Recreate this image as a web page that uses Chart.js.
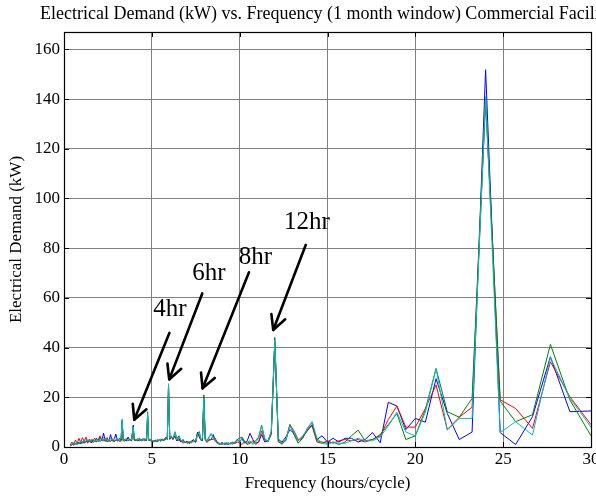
<!DOCTYPE html>
<html><head><meta charset="utf-8">
<script src="https://cdn.jsdelivr.net/npm/chart.js@4.4.1/dist/chart.umd.min.js"></script>
<style>html,body{margin:0;padding:0;background:#fff;}canvas{display:block;}</style>
</head><body>
<canvas id="c" width="596" height="498"></canvas>
<script>
// Frequency axis values (hours/cycle)
const freq = [
  0.35,0.45,0.55,0.65,0.75,0.85,0.95,1.05,1.15,1.25,
  1.35,1.45,1.55,1.65,1.75,1.85,1.95,2.05,2.15,2.25,
  2.35,2.45,2.55,2.65,2.75,2.85,2.95,3.05,3.15,3.25,
  3.31,3.37,3.45,3.55,3.65,3.75,3.85,3.94,4.0,4.1,
  4.2,4.3,4.4,4.5,4.6,4.7,4.76,4.82,4.9,5.0,
  5.1,5.2,5.3,5.4,5.5,5.6,5.7,5.8,5.88,5.95,
  6.02,6.1,6.2,6.32,6.42,6.55,6.65,6.78,6.9,7.0,
  7.12,7.25,7.37,7.5,7.6,7.7,7.8,7.88,7.96,8.04,
  8.14,8.25,8.37,8.5,8.6,8.72,8.85,9.0,9.14,9.23,
  9.35,9.47,9.6,9.73,9.86,
  10.0,10.14,10.29,10.43,10.59,10.75,10.91,11.08,11.25,11.43,
  11.61,11.8,12.0,12.2,12.41,12.63,12.86,13.09,13.33,13.58,
  13.85,14.12,14.4,14.69,15.0,15.32,15.65,16.0,16.36,16.74,
  17.14,17.56,18.0,18.46,18.95,19.46,20.0,20.57,21.18,21.82,
  22.5,23.23,24.0,24.83,25.71,26.67,27.69,28.8,30.0
];
const blueKW = [
  0.5,1.2,0.8,1.5,1.0,2.0,1.2,2.2,1.5,2.5,
  1.8,2.6,1.6,3.0,2.0,3.5,2.2,4.0,2.5,5.6,
  2.4,3.2,2.2,5.0,2.4,3.0,5.2,2.6,3.4,2.8,
  10.5,2.6,3.0,2.4,4.0,2.6,3.2,8.8,2.8,3.2,
  2.4,3.0,2.6,3.4,2.4,3.0,12.5,2.8,3.2,2.4,
  2.0,2.8,2.2,3.0,2.4,3.2,2.6,4.0,3.0,24.0,
  3.4,4.5,3.0,4.5,2.4,3.5,2.0,3.0,1.6,2.4,
  1.4,2.2,3.0,2.0,6.0,4.0,2.6,3.0,19.0,3.2,
  2.0,3.0,2.8,5.0,2.6,1.6,1.2,1.8,1.0,1.4,
  1.0,1.6,1.2,2.0,3.0,
  2.0,3.5,1.5,2.5,5.5,3.0,1.5,2.0,5.0,2.0,
  2.5,6.0,42.0,3.0,2.0,4.0,7.0,5.5,2.5,4.0,
  6.5,9.0,3.0,4.5,2.0,3.5,2.0,3.5,3.5,2.0,
  3.0,5.8,1.7,18.0,16.5,7.0,11.5,10.0,27.5,13.5,
  3.0,6.0,151.8,5.8,1.0,12.2,36.3,14.2,14.5
];
const redKW = [
  0.8,2.0,1.0,2.8,1.5,3.5,1.8,3.8,2.2,4.0,
  1.5,3.2,2.0,2.5,3.6,2.2,3.0,4.5,2.6,3.0,
  2.2,3.8,2.4,2.8,3.4,2.0,3.0,2.4,2.8,2.2,
  10.0,2.4,2.8,3.4,2.6,3.0,2.4,7.5,2.6,3.0,
  2.6,3.6,2.4,2.8,3.2,2.4,12.0,2.6,3.0,2.2,
  2.6,2.0,3.0,2.4,3.2,2.6,3.4,3.0,3.6,24.5,
  3.0,3.8,3.4,4.2,3.0,2.6,2.4,1.5,2.2,1.4,
  2.0,1.6,2.6,1.8,5.0,4.6,3.4,2.4,20.0,2.8,
  1.8,2.6,3.2,3.0,3.6,2.0,1.4,1.0,1.6,1.0,
  1.8,1.2,1.6,1.4,2.0,
  1.5,1.0,2.5,1.0,1.5,2.5,1.0,2.0,6.5,3.0,
  2.0,5.0,42.5,2.5,1.0,3.0,9.0,6.5,3.0,3.5,
  7.0,8.5,2.0,1.5,2.5,1.5,2.5,3.0,2.5,3.0,
  2.0,3.0,4.5,11.0,16.5,8.0,8.0,15.5,25.0,7.0,
  12.0,16.0,139.5,19.0,15.5,7.5,34.3,20.2,9.0
];
const greenKW = [
  0.4,0.8,1.5,1.0,2.0,1.2,2.2,1.5,2.5,1.8,
  2.8,2.0,3.0,1.8,2.6,2.0,3.2,2.2,3.0,2.4,
  3.4,2.0,2.8,2.2,3.0,2.4,2.6,3.2,2.2,3.0,
  10.8,2.8,2.4,3.0,2.6,3.2,2.6,7.8,3.0,2.4,
  3.4,2.6,3.0,2.6,3.4,2.8,14.2,3.0,2.4,2.8,
  2.2,2.6,2.0,2.8,2.4,3.0,2.6,3.6,3.2,24.8,
  3.8,4.0,3.2,6.0,3.4,4.5,2.6,2.2,1.8,2.0,
  1.6,2.4,2.0,3.0,5.5,6.2,3.0,2.6,21.0,3.4,
  2.4,4.0,5.0,4.5,2.8,1.8,1.0,1.6,1.2,1.8,
  1.2,1.4,2.0,1.6,3.0,
  3.5,4.0,2.0,1.5,2.0,1.5,2.5,4.0,8.8,3.0,
  2.5,5.5,44.1,2.0,1.5,2.5,9.0,5.0,1.5,3.5,
  7.5,10.0,2.5,2.0,1.5,2.0,1.0,2.0,4.5,6.8,
  2.5,3.0,5.0,9.0,13.5,3.0,4.5,15.0,31.6,14.2,
  12.0,19.5,140.0,18.5,10.2,13.0,41.3,18.9,4.5
];
const cyanKW = [
  0.6,1.0,1.8,1.2,2.2,1.5,2.5,2.0,2.8,2.2,
  3.0,2.4,2.6,3.2,2.2,3.0,2.4,3.4,2.6,3.8,
  2.8,3.2,2.6,3.6,2.8,3.2,3.8,2.8,3.0,3.4,
  11.3,3.0,2.6,3.2,3.0,2.8,3.0,8.0,3.4,2.8,
  3.0,3.2,2.6,3.0,2.6,3.2,13.5,2.8,3.0,2.6,
  2.4,2.2,2.6,2.4,3.0,2.6,3.2,3.8,3.4,25.5,
  3.6,4.4,3.6,6.2,3.0,4.0,2.8,2.4,2.0,1.8,
  2.2,2.0,2.4,2.6,5.0,5.8,2.8,3.4,19.5,3.0,
  2.2,3.6,5.5,3.6,2.4,1.4,1.6,1.2,1.4,1.0,
  1.6,1.2,1.4,2.0,2.6,
  2.5,3.0,1.5,2.0,2.5,1.0,2.0,3.5,8.5,3.5,
  2.0,6.5,43.0,3.5,1.5,3.0,8.5,6.0,2.5,4.5,
  7.0,10.2,3.5,1.5,1.0,2.0,1.5,1.5,2.5,3.5,
  2.5,2.5,4.0,8.5,14.0,6.0,4.5,14.0,31.5,6.8,
  11.5,11.5,141.0,5.8,10.2,4.8,36.0,19.6,8.0
];
const xTicks = [0,5,10,15,20,25,30];
const yTicks = [0,20,40,60,80,100,120,140,160];
const noteLabels = ['4hr','6hr','8hr','12hr'];
const titleText = 'Electrical Demand (kW) vs. Frequency (1 month window) Commercial Facility';
const xTitle = 'Frequency (hours/cycle)';
const yTitle = 'Electrical Demand (kW)';

// annotation geometry (data units): label centre, arrow tail, arrow tip
const noteGeom = [
  {tx:6.03, ty:55.5, x0:6.0,  y0:45.9, x1:4.0,  y1:11.0},
  {tx:8.25, ty:69.8, x0:7.87, y0:61.8, x1:5.99, y1:27.2},
  {tx:10.9, ty:76.2, x0:10.53,y0:70.3, x1:7.89, y1:23.6},
  {tx:13.83,ty:90.5, x0:13.76,y0:81.3, x1:11.91,y1:47.1}
];

const FONT = "'Liberation Serif','Times New Roman',serif";
const pts = arr => freq.map((f, i) => ({x: f, y: arr[i]}));

const framePlugin = {
  id: 'frame',
  afterDraw(chart) {
    const {ctx, chartArea: a, scales: {x, y}} = chart;
    ctx.save();
    ctx.strokeStyle = '#000'; ctx.lineWidth = 1;
    ctx.beginPath();
    xTicks.forEach(v => {
      const px = Math.round(x.getPixelForValue(v)) + 0.5;
      ctx.moveTo(px, a.bottom); ctx.lineTo(px, a.bottom - 5);
      ctx.moveTo(px, a.top); ctx.lineTo(px, a.top + 5);
    });
    yTicks.forEach(v => {
      const py = Math.round(y.getPixelForValue(v)) + 0.5;
      ctx.moveTo(a.left, py); ctx.lineTo(a.left + 5, py);
      ctx.moveTo(a.right, py); ctx.lineTo(a.right - 5, py);
    });
    ctx.stroke();
    ctx.lineWidth = 1.2;
    ctx.strokeRect(Math.round(a.left) + 0.5, Math.round(a.top) + 0.5,
                   Math.round(a.right - a.left), Math.round(a.bottom - a.top));
    ctx.lineWidth = 2.6; ctx.lineCap = 'round'; ctx.lineJoin = 'round';
    ctx.fillStyle = '#000';
    ctx.font = '25px ' + FONT;
    ctx.textAlign = 'center'; ctx.textBaseline = 'middle';
    noteGeom.forEach((g, i) => {
      const X0 = x.getPixelForValue(g.x0), Y0 = y.getPixelForValue(g.y0);
      const X1 = x.getPixelForValue(g.x1), Y1 = y.getPixelForValue(g.y1);
      ctx.beginPath(); ctx.moveTo(X0, Y0); ctx.lineTo(X1, Y1); ctx.stroke();
      const ang = Math.atan2(Y0 - Y1, X0 - X1), L = 16, w = 0.48;
      ctx.beginPath();
      ctx.moveTo(X1 + L * Math.cos(ang - w), Y1 + L * Math.sin(ang - w));
      ctx.lineTo(X1, Y1);
      ctx.lineTo(X1 + L * Math.cos(ang + w), Y1 + L * Math.sin(ang + w));
      ctx.stroke();
      ctx.fillText(noteLabels[i], x.getPixelForValue(g.tx), y.getPixelForValue(g.ty));
    });
    ctx.font = '18px ' + FONT;
    ctx.textAlign = 'left';
    ctx.fillText(titleText, 40, 14);
    ctx.restore();
  }
};

new Chart(document.getElementById('c'), {
  type: 'line',
  data: {
    datasets: [
      {data: pts(blueKW),  borderColor: '#0000ff', order: 4},
      {data: pts(redKW),   borderColor: '#ff0000', order: 3},
      {data: pts(greenKW), borderColor: '#008000', order: 2},
      {data: pts(cyanKW),  borderColor: '#00bfbf', order: 1}
    ]
  },
  options: {
    responsive: false, animation: false, devicePixelRatio: 1,
    elements: {point: {radius: 0}, line: {borderWidth: 1, tension: 0}},
    layout: {padding: {left: 0, top: 32, right: 5, bottom: 0}},
    plugins: {legend: {display: false}, tooltip: {enabled: false}, title: {display: false}},
    scales: {
      x: {
        type: 'linear', min: 0, max: 30,
        afterBuildTicks: s => { s.ticks = xTicks.map(v => ({value: v})); },
        afterFit: s => { s.height = 51; s.paddingLeft = 0; s.paddingRight = 0; },
        ticks: {font: {family: FONT, size: 17}, color: '#000', padding: 2, maxRotation: 0, autoSkip: false},
        grid: {color: '#808080', lineWidth: 1, drawTicks: false},
        border: {display: false},
        title: {display: true, text: xTitle, color: '#000', font: {family: FONT, size: 17}, padding: {top: 0, bottom: 4}}
      },
      y: {
        type: 'linear', min: 0, max: 167,
        afterBuildTicks: s => { s.ticks = yTicks.map(v => ({value: v})); },
        afterFit: s => { s.width = 64; s.paddingTop = 0; s.paddingBottom = 0; },
        ticks: {font: {family: FONT, size: 17}, color: '#000', padding: 4, autoSkip: false},
        grid: {color: '#808080', lineWidth: 1, drawTicks: false},
        border: {display: false},
        title: {display: true, text: yTitle, color: '#000', font: {family: FONT, size: 17}, padding: {top: 6, bottom: 0}}
      }
    }
  },
  plugins: [framePlugin]
});
</script>
</body></html>
